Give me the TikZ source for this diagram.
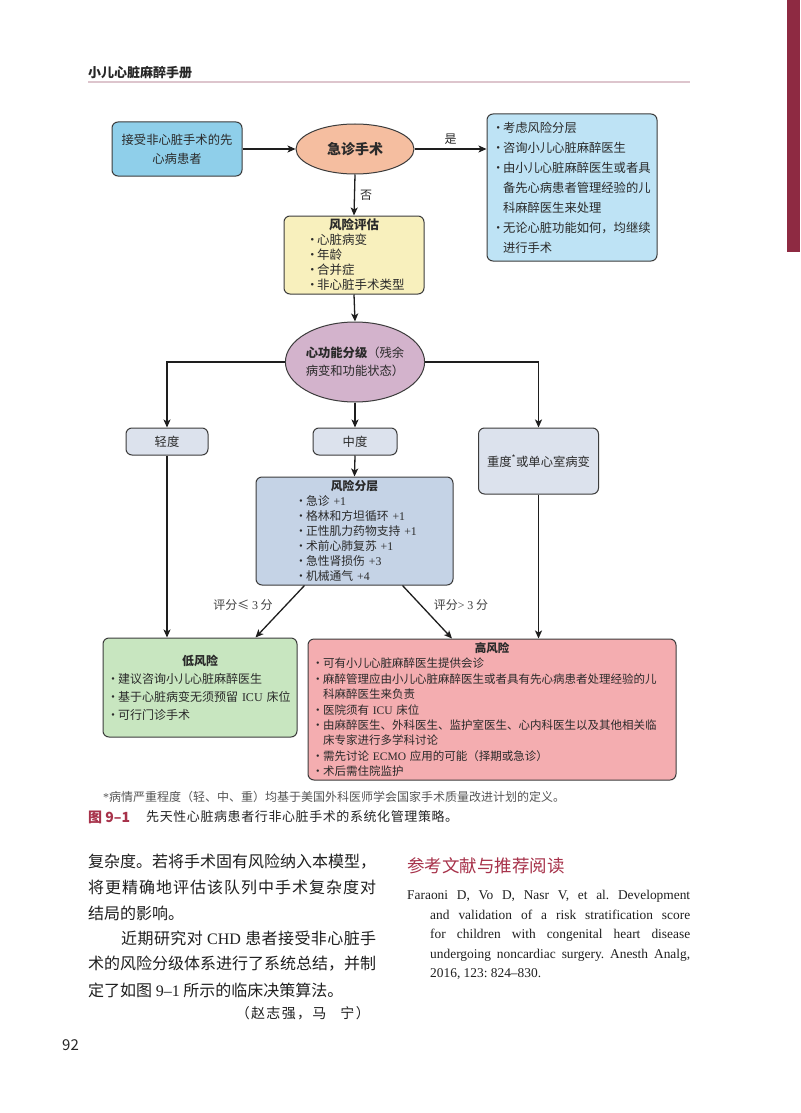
\documentclass[tikz,border=0pt]{standalone}
\usepackage{fontspec}
\setmainfont{Noto Sans CJK SC}
\newfontfamily\lat{Liberation Serif}
\XeTeXlinebreaklocale "zh"
\XeTeXlinebreakskip=0pt plus 3pt
\frenchspacing
\usetikzlibrary{arrows.meta,shapes.geometric}
\definecolor{bd}{HTML}{3C3C3C}
\definecolor{ar}{HTML}{1E1E1E}
\definecolor{tx}{HTML}{2A2A2A}
\definecolor{cB1}{HTML}{8FCFEA}
\definecolor{cE1}{HTML}{F5BEA0}
\definecolor{cR}{HTML}{BEE3F5}
\definecolor{cY}{HTML}{F8F0BD}
\definecolor{cE2}{HTML}{D3B3CC}
\definecolor{cG}{HTML}{DCE2ED}
\definecolor{cRS}{HTML}{C5D3E6}
\definecolor{cLO}{HTML}{C8E6C0}
\definecolor{cHI}{HTML}{F4ADB0}
\definecolor{hred}{HTML}{A7324A}
\definecolor{hdline}{HTML}{DDC5CD}
\definecolor{redbar}{HTML}{8E2A42}
\definecolor{fn}{HTML}{555555}
\newcommand\fs[2]{\fontsize{#1}{#2}\selectfont}
\newcommand\bu{\makebox[11pt][l]{·}}
\newcommand\ind{\hspace*{11pt}}
\newcommand\jl[2]{\makebox[#1][s]{#2}}
% spread CJK characters: glue between characters (not after the last)
\def\cjs#1{\cjsB#1\relax}
\def\cjsB#1{#1\cjsA}
\def\cjsA#1{\ifx#1\relax\else\hskip0pt plus 1pt\relax#1\expandafter\cjsA\fi}
\begin{document}
\begin{tikzpicture}[x=1pt,y=-1pt,
  box/.style={draw=bd, line width=1pt, rounded corners=6pt, inner sep=0pt, text=tx},
  arr/.style={draw=ar, line width=1.3pt, -{Stealth[length=8pt,width=7pt,inset=2pt]}},
  lbl/.style={font=\fs{12}{14}, text=tx, inner sep=1pt},
  body/.style={anchor=west, inner sep=0pt, font=\fs{16}{18}, text=black!88},
  refl/.style={anchor=west, inner sep=0pt, font=\lat\fs{13.4}{16}\frenchspacing, text=black!88}]
\useasboundingbox (0,0) rectangle (800,1113);
\fill[white] (0,0) rectangle (800,1113);
% page decoration
\node[anchor=west, inner sep=0pt, font=\bfseries\fs{13}{15}, text=black!85] (hd) at (88,73) {小儿心脏麻醉手册};
\draw[hdline, line width=2.5pt] (88,82) -- (690,82);
\fill[redbar] (787,0) rectangle (800,252);

% nodes
\node[box, fill=cB1, minimum width=130pt, minimum height=54pt, align=center, font=\fs{12.3}{19}] (B1) at (177,149) {接受非心脏手术的先\\心病患者};
\node[ellipse, draw=bd, line width=1pt, fill=cE1, minimum width=118pt, minimum height=50pt, inner sep=0pt, text=tx, font=\bfseries\fs{14}{16}] (E1) at (355,149) {急诊手术};
\node[box, fill=cR, minimum height=147pt, text width=160pt, inner xsep=5pt, align=left, font=\fs{12.3}{20}] (R) at (572,187.5) {\bu 考虑风险分层\\
\bu 咨询小儿心脏麻醉医生\\
\bu 由小儿心脏麻醉医生或者具\\
\ind 备先心病患者管理经验的儿\\
\ind 科麻醉医生来处理\\
\bu 无论心脏功能如何，均继续\\
\ind 进行手术};
\node[box, fill=cY, minimum height=78pt, text width=132pt, inner xsep=4pt, align=left, font=\fs{12.5}{15}] (Y) at (354,255) {\makebox[132pt]{\bfseries 风险评估}\\
\hspace*{18pt}\bu 心脏病变\\
\hspace*{18pt}\bu 年龄\\
\hspace*{18pt}\bu 合并症\\
\hspace*{18pt}\bu 非心脏手术类型};
\node[ellipse, draw=bd, line width=1pt, fill=cE2, minimum width=120pt, minimum height=80pt, inner sep=0pt, text=tx, align=center, font=\fs{12.3}{18}] (E2) at (355,362) {{\bfseries 心功能分级}（残余\\病变和功能状态）};
\node[box, fill=cG, minimum width=82pt, minimum height=27pt, font=\fs{12.3}{14}] (L) at (167,441.5) {轻度};
\node[box, fill=cG, minimum width=84pt, minimum height=27pt, font=\fs{12.3}{14}] (M) at (355,441.5) {中度};
\node[box, fill=cG, minimum width=120pt, minimum height=66pt, font=\fs{12.3}{14}] (S) at (538.5,461) {重度\textsuperscript{*}或单心室病变};
\node[box, fill=cRS, minimum height=108pt, text width=189pt, inner xsep=4pt, align=left, font=\fs{11.8}{15}] (RS) at (354.5,531) {\makebox[189pt]{\bfseries 风险分层}\\
\hspace*{35pt}\bu 急诊 {\lat +1}\\
\hspace*{35pt}\bu 格林和方坦循环 {\lat +1}\\
\hspace*{35pt}\bu 正性肌力药物支持 {\lat +1}\\
\hspace*{35pt}\bu 术前心肺复苏 {\lat +1}\\
\hspace*{35pt}\bu 急性肾损伤 {\lat +3}\\
\hspace*{35pt}\bu 机械通气 {\lat +4}};
\node[box, fill=cLO, minimum height=99pt, text width=186pt, inner xsep=4pt, align=left, font=\fs{12}{18}] (LO) at (200,687.5) {\makebox[186pt]{\bfseries 低风险}\\
\bu 建议咨询小儿心脏麻醉医生\\
\bu 基于心脏病变无须预留 {\lat ICU} 床位\\
\bu 可行门诊手术};
\node[box, fill=cHI, minimum height=141pt, text width=360pt, inner xsep=4pt, align=left, font=\fs{11.5}{15.4}] (HI) at (492,709.5) {\makebox[360pt]{\bfseries 高风险}\\
\bu 可有小儿心脏麻醉医生提供会诊\\
\bu 麻醉管理应由小儿心脏麻醉医生或者具有先心病患者处理经验的儿\\
\ind 科麻醉医生来负责\\
\bu 医院须有 {\lat ICU} 床位\\
\bu 由麻醉医生、外科医生、监护室医生、心内科医生以及其他相关临\\
\ind 床专家进行多学科讨论\\
\bu 需先讨论 {\lat ECMO} 应用的可能（择期或急诊）\\
\bu 术后需住院监护};

% connectors
\draw[arr] (B1.east) -- (B1.east -| E1.west);
\draw[arr] (E1.east) -- (E1.east -| R.west) node[lbl, midway, above=3pt] {是};
\draw[arr] (E1.south) -- (Y.north) node[lbl, midway, right=4pt] {否};
\draw[arr] (Y.south) -- (E2.north);
\draw[arr] (E2.west) -| (L.north);
\draw[arr] (E2.south) -- (M.north);
\draw[arr] (E2.east) -| (S.north);
\draw[arr] (M.south) -- (RS.north);
\draw[arr] (L.south) -- (L.south |- LO.north);
\draw[arr] (S.south) -- (S.south |- HI.north);
\draw[arr] ([xshift=49pt]RS.south west) -- ([xshift=-42pt]LO.north east);
\draw[arr] ([xshift=-51pt]RS.south east) -- ([xshift=-40pt]HI.north);
\node[lbl, text=black!75] (s1) at (243,605) {评分≤ {\lat 3} 分};
\node[lbl, text=black!75] (s2) at (461,605) {评分{\lat >} {\lat 3} 分};

% footnote and caption
\node[anchor=west, inner sep=0pt, font=\fs{12}{14}, text=fn] (fnote) at (103,797) {\jl{457pt}{{\lat *}\cjs{病情严重程度（轻、中、重）均基于美国外科医师学会国家手术质量改进计划的定义。}}};
\node[anchor=west, inner sep=0pt, font=\bfseries\fs{14}{16}, text=hred] (cap1) at (88,817) {图 9–1};
\node[anchor=west, inner sep=0pt, font=\fs{13}{15}, text=black!85] (cap2) at (146,817) {\jl{312pt}{\cjs{先天性心脏病患者行非心脏手术的系统化管理策略。}}};

% body text
\node[body] (b1) at (88,862) {\jl{288pt}{\cjs{复杂度。若将手术固有风险纳入本模型，}}};
\node[body] (b2) at (88,887) {\jl{288pt}{\cjs{将更精确地评估该队列中手术复杂度对}}};
\node[body] (b3) at (88,913) {结局的影响。};
\node[body] (b4) at (121,938) {\jl{255pt}{\cjs{近期研究对} {\lat CHD} \cjs{患者接受非心脏手}}};
\node[body] (b5) at (88,964) {\jl{288pt}{\cjs{术的风险分级体系进行了系统总结，并制}}};
\node[body] (b6) at (88,990) {定了如图 {\lat 9–1} 所示的临床决策算法。};
\node[body, anchor=east, font=\fs{14}{16}] (b7) at (370,1013) {\jl{134pt}{\cjs{（赵志强，马}\quad\cjs{宁）}}};

\node[anchor=west, inner sep=0pt, font=\fs{17.5}{20}, text=hred] (rh) at (407,866) {参考文献与推荐阅读};
\node[refl] (r1) at (407,896) {\jl{283pt}{Faraoni D, Vo D, Nasr V, et al. Development\strut}};
\node[refl] (r2) at (430,916) {\jl{260pt}{and validation of a risk stratification score\strut}};
\node[refl] (r3) at (430,935) {\jl{260pt}{for children with congenital heart disease\strut}};
\node[refl] (r4) at (430,955) {\jl{260pt}{undergoing noncardiac surgery. Anesth Analg,\strut}};
\node[refl] (r5) at (430,974) {2016, 123: 824–830.\strut};

\node[anchor=west, inner sep=0pt, font=\fs{15}{17}, text=black!85] (pn) at (62,1045) {92};
\end{tikzpicture}
\end{document}
